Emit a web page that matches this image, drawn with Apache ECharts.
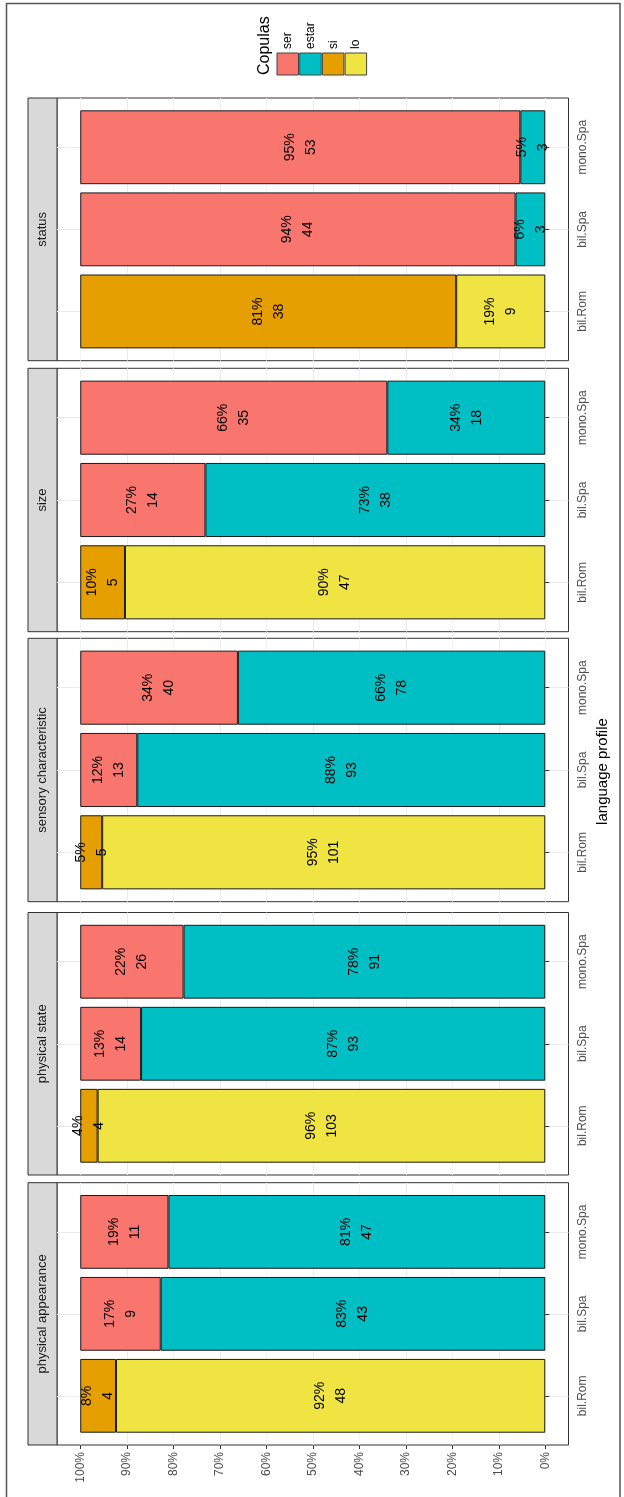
<!DOCTYPE html>
<html>
<head>
<meta charset="utf-8">
<script src="https://cdn.jsdelivr.net/npm/echarts@6/dist/echarts.min.js"></script>
<style>
  html, body { margin: 0; padding: 0; background: #fff; }
  #chart { width: 624px; height: 1497px; }
</style>
</head>
<body>
<div id="chart"></div>
<script>
// facets, bottom to top in the picture
const facets = ['physical appearance', 'physical state', 'sensory characteristic', 'size', 'status'];
const profiles = ['bil.Rom', 'bil.Spa', 'mono.Spa'];
const copulas = ['ser', 'estar', 'si', 'lo'];
const copulaColors = ['#F8766D', '#00BFC4', '#E69F00', '#F0E442'];
// counts per facet, per profile (bil.Rom, bil.Spa, mono.Spa)
const serCounts   = [[0, 9, 11], [0, 14, 26], [0, 13, 40], [0, 14, 35], [0, 44, 53]];
const estarCounts = [[0, 43, 47], [0, 93, 91], [0, 93, 78], [0, 38, 18], [0, 3, 3]];
const siCounts    = [[4, 0, 0], [4, 0, 0], [5, 0, 0], [5, 0, 0], [38, 0, 0]];
const loCounts    = [[48, 0, 0], [103, 0, 0], [101, 0, 0], [47, 0, 0], [9, 0, 0]];
const xTicks = [0, 10, 20, 30, 40, 50, 60, 70, 80, 90, 100];

const counts = [serCounts, estarCounts, siCounts, loCounts];
const FONT = '"Liberation Sans", Arial, sans-serif';
const W = 624;
const panelLeft = 57, panelRight = 568.5, stripLeft = 28;
// panel rows, top to bottom
const rowTop = [98, 368.3, 638.3, 912.5, 1182.7];
const rowBottom = [360.7, 631.7, 901.7, 1175, 1445];

const chart = echarts.init(document.getElementById('chart'));
const grid = [], xAxis = [], yAxis = [], series = [], graphic = [];
const n = facets.length;

facets.forEach((facet, f) => {
  const row = n - 1 - f;
  const top = rowTop[row];
  const h = rowBottom[row] - top;
  const isBottom = row === n - 1;

  // panel: frame + grid lines (y scale in tenths: 4..36 ~ 0.4..3.6)
  grid.push({left: panelLeft, right: W - panelRight, top: top, height: h,
    show: true, backgroundColor: '#fff', borderColor: '#333', borderWidth: 1});
  xAxis.push({gridIndex: f, type: 'value', min: -5, max: 105, interval: 5, inverse: true,
    axisLine: {show: false},
    axisTick: {show: isBottom, customValues: xTicks, length: 4, lineStyle: {color: '#333'}},
    axisLabel: {show: isBottom, customValues: xTicks, rotate: 90, margin: 7, fontSize: 12,
      color: '#4d4d4d', fontFamily: FONT, formatter: v => v + '%'},
    splitLine: {show: true, lineStyle: {color: ['#f3f3f3', '#ebebeb'], width: 1}}});
  yAxis.push({gridIndex: f, type: 'value', min: 4, max: 36, interval: 2,
    axisLine: {show: false}, axisTick: {show: false}, axisLabel: {show: false},
    splitLine: {show: true, lineStyle: {color: ['rgba(0,0,0,0)', 'rgba(0,0,0,0)', 'rgba(0,0,0,0)', '#ebebeb', 'rgba(0,0,0,0)'], width: 1}}});

  // bars
  grid.push({left: panelLeft, right: W - panelRight, top: top + h / 32, height: h * 30 / 32});
  xAxis.push({gridIndex: n + f, type: 'value', min: -5, max: 105, inverse: true, show: false});
  yAxis.push({gridIndex: n + f, type: 'category', data: profiles, position: 'right',
    axisLine: {show: false},
    axisTick: {show: true, alignWithLabel: true, length: 4, lineStyle: {color: '#333'}},
    axisLabel: {rotate: 90, margin: 8, fontSize: 12, color: '#4d4d4d', fontFamily: FONT},
    splitLine: {show: false}});
}

);

// grids were pushed in pairs, reorder so outer = 0..n-1, inner = n..2n-1
const outerG = grid.filter((g, i) => i % 2 === 0), innerG = grid.filter((g, i) => i % 2 === 1);
const outerX = xAxis.filter((g, i) => i % 2 === 0), innerX = xAxis.filter((g, i) => i % 2 === 1);
const outerY = yAxis.filter((g, i) => i % 2 === 0), innerY = yAxis.filter((g, i) => i % 2 === 1);

facets.forEach((facet, f) => {
  const totals = profiles.map((p, i) => counts.reduce((s, c) => s + c[f][i], 0));
  [3, 2, 1, 0].forEach(c => {
    const cnt = counts[c][f];
    series.push({
      type: 'bar', name: copulas[c], xAxisIndex: n + f, yAxisIndex: n + f,
      stack: 'facet' + f, barWidth: '90%',
      data: cnt.map((v, i) => v ? v / totals[i] * 100 : null),
      itemStyle: {color: copulaColors[c], borderColor: '#1a1a1a', borderWidth: 1},
      label: {show: true, position: 'inside', rotate: 90, fontSize: 14, lineHeight: 21,
        color: '#000', fontFamily: FONT,
        formatter: p => Math.round(p.value) + '%\n' + cnt[p.dataIndex]},
      emphasis: {disabled: true}
    });
  });

  const row = n - 1 - f;
  const top = rowTop[row];
  const h = rowBottom[row] - top;
  graphic.push({type: 'rect', shape: {x: stripLeft, y: top, width: panelLeft - stripLeft, height: h},
    style: {fill: '#d9d9d9', stroke: '#333', lineWidth: 1}});
  graphic.push({type: 'text', x: (stripLeft + panelLeft) / 2, y: top + h / 2, rotation: Math.PI / 2,
    style: {text: facet, fill: '#1a1a1a', fontSize: 13, fontFamily: FONT,
      align: 'center', verticalAlign: 'middle'}});
});

// axis title
graphic.push({type: 'text', x: 603, y: (rowTop[0] + rowBottom[n - 1]) / 2, rotation: Math.PI / 2,
  style: {text: 'language profile', fill: '#000', fontSize: 15, fontFamily: FONT,
    align: 'center', verticalAlign: 'middle'}});

// legend
graphic.push({type: 'text', x: 265, y: 75, rotation: Math.PI / 2,
  style: {text: 'Copulas', fill: '#000', fontSize: 16, fontFamily: FONT,
    align: 'left', verticalAlign: 'middle'}});
copulas.forEach((name, i) => {
  const x0 = 277 + i * 22.7;
  graphic.push({type: 'rect', shape: {x: x0, y: 53, width: 21.5, height: 22},
    style: {fill: copulaColors[i], stroke: '#444', lineWidth: 1}});
  graphic.push({type: 'text', x: x0 + 11, y: 49, rotation: Math.PI / 2,
    style: {text: name, fill: '#000', fontSize: 12, fontFamily: FONT,
      align: 'left', verticalAlign: 'middle'}});
});

// outer frame
graphic.push({type: 'rect', shape: {x: 6.5, y: 3.5, width: 613.5, height: 1500},
  style: {fill: 'none', stroke: '#555', lineWidth: 1.5}, z: -1});

chart.setOption({
  backgroundColor: '#fff',
  animation: false,
  grid: outerG.concat(innerG),
  xAxis: outerX.concat(innerX),
  yAxis: outerY.concat(innerY),
  series: series,
  graphic: graphic
});
</script>
</body>
</html>
